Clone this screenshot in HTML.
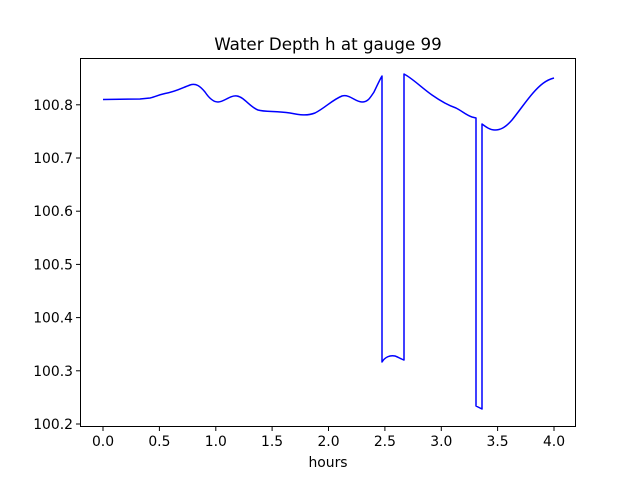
<!DOCTYPE html>
<html><head><style>body{margin:0;background:#fff}svg{display:block}text{font-family:"DejaVu Sans","Liberation Sans",sans-serif;fill:#000}</style></head>
<body>
<svg width="640" height="480" viewBox="0 0 640 480" xmlns="http://www.w3.org/2000/svg">
<rect width="640" height="480" fill="#fff"/>
<path fill="none" stroke="#0000ff" stroke-width="1.5" stroke-linejoin="round" d="M103,99.5 L140,99 L150,98 C155,97 158,95 165,93.5 C175,92 182,88 190,85 C196,83 200,86 205,92 C209,98 213,102 218,102 C224,102 230,95 237,96 C244,97 250,107 258,110 C265,112 275,111 290,113 C300,115 307,116 315,113 C325,108 332,100 342,96 C350,94 355,102 362,102 C368,102 370,98 374,92 C377,86 380,79 382,76 L382,362 C385,357 390,355 395,356 C398,357 401,359 404,360 L404,74 C412,78 422,88 432,95 C442,102 450,106 456,108 C462,111 466,115 472,117 L476,118 L476,406 L482,409 L482,124 C486,127 490,130 495,130 C500,130 505,128 512,120 C520,110 526,101 533,93 C540,85 546,80 554,78"/>
<rect x="80.5" y="58.5" width="495" height="368" fill="none" stroke="#000" stroke-width="1"/>
<g stroke="#000" stroke-width="1">
<line x1="103" y1="427" x2="103" y2="431"/><line x1="159.4" y1="427" x2="159.4" y2="431"/><line x1="215.8" y1="427" x2="215.8" y2="431"/><line x1="272.1" y1="427" x2="272.1" y2="431"/><line x1="328.5" y1="427" x2="328.5" y2="431"/><line x1="384.9" y1="427" x2="384.9" y2="431"/><line x1="441.3" y1="427" x2="441.3" y2="431"/><line x1="497.6" y1="427" x2="497.6" y2="431"/><line x1="554" y1="427" x2="554" y2="431"/>
<line x1="76" y1="424" x2="80" y2="424"/><line x1="76" y1="370.8" x2="80" y2="370.8"/><line x1="76" y1="317.6" x2="80" y2="317.6"/><line x1="76" y1="264.4" x2="80" y2="264.4"/><line x1="76" y1="211.2" x2="80" y2="211.2"/><line x1="76" y1="158" x2="80" y2="158"/><line x1="76" y1="104.8" x2="80" y2="104.8"/>
</g>
<g font-size="13.9" text-anchor="middle">
<text x="103" y="446">0.0</text><text x="159.4" y="446">0.5</text><text x="215.8" y="446">1.0</text><text x="272.1" y="446">1.5</text><text x="328.5" y="446">2.0</text><text x="384.9" y="446">2.5</text><text x="441.3" y="446">3.0</text><text x="497.6" y="446">3.5</text><text x="554" y="446">4.0</text>
<text x="328" y="467">hours</text>
</g>
<g font-size="13.9" text-anchor="end">
<text x="73" y="429">100.2</text><text x="73" y="375.8">100.3</text><text x="73" y="322.6">100.4</text><text x="73" y="269.4">100.5</text><text x="73" y="216.2">100.6</text><text x="73" y="163">100.7</text><text x="73" y="109.8">100.8</text>
</g>
<text x="328" y="50" font-size="16.7" text-anchor="middle">Water Depth h at gauge 99</text>
</svg>
</body></html>
